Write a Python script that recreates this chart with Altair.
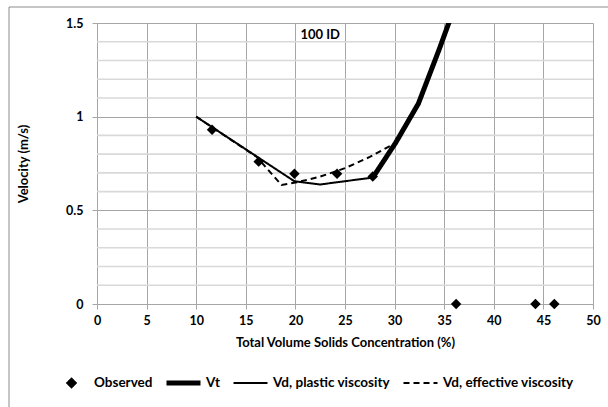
import altair as alt
import pandas as pd

FONT = "Lato"

series_names = ["Observed", "Vt", "Vd, plastic viscosity", "Vd, effective viscosity"]

obs_x = [11.6, 16.3, 19.9, 24.2, 27.8, 36.2, 44.2, 46.1]
obs_y = [0.93, 0.76, 0.695, 0.695, 0.68, 0.0, 0.0, 0.0]

vt_x = [27.8, 30.1, 32.4, 34.5, 35.6]
vt_y = [0.675, 0.86, 1.07, 1.36, 1.52]

vdp_x = [10.0, 19.9, 22.5, 27.8]
vdp_y = [1.0, 0.655, 0.638, 0.675]

vde_x = [10.0, 16.1, 18.6, 20.0, 22.5, 25.0, 27.5, 30.1]
vde_y = [1.0, 0.785, 0.635, 0.648, 0.68, 0.725, 0.785, 0.86]

x_ticks = [0, 5, 10, 15, 20, 25, 30, 35, 40, 45, 50]
y_ticks = [0, 0.5, 1.0, 1.5]
y_minor = [0.1, 0.2, 0.3, 0.4, 0.6, 0.7, 0.8, 0.9, 1.1, 1.2, 1.3, 1.4]

label_text = ["100 ID"]
label_x = [22.5]
label_y = [1.435]

obs = pd.DataFrame({"x": obs_x, "y": obs_y, "s": series_names[0]})
lines = pd.concat([
    pd.DataFrame({"x": vt_x, "y": vt_y, "s": series_names[1], "o": range(len(vt_x))}),
    pd.DataFrame({"x": vdp_x, "y": vdp_y, "s": series_names[2], "o": range(len(vdp_x))}),
    pd.DataFrame({"x": vde_x, "y": vde_y, "s": series_names[3], "o": range(len(vde_x))}),
])
ann = pd.DataFrame({"x": label_x, "y": label_y, "t": label_text})
minor = pd.DataFrame({"y": y_minor})

axis_font = dict(labelFont=FONT, labelFontWeight="bold", labelFontSize=12.5, labelColor="black",
                 titleFont=FONT, titleFontWeight="bold", titleFontSize=13, titleColor="black",
                 labelOverlap=False)

xscale = alt.Scale(domain=[0, 50], nice=False, zero=False)
yscale = alt.Scale(domain=[0, 1.5], nice=False)

xenc = alt.X("x:Q", scale=xscale,
             axis=alt.Axis(values=x_ticks, title="Total Volume Solids Concentration (%)",
                           grid=True, gridColor="#a6a6a6", gridWidth=1,
                           domainColor="#a6a6a6", tickColor="#a6a6a6", tickSize=5,
                           labelPadding=5, titlePadding=10, labelFlush=False, **axis_font))
yenc = alt.Y("y:Q", scale=yscale,
             axis=alt.Axis(values=y_ticks, title="Velocity (m/s)", format="~g",
                           grid=True, gridColor="#a6a6a6", gridWidth=1,
                           domainColor="#a6a6a6", tickColor="#a6a6a6", tickSize=5,
                           labelPadding=9, titleX=-67, labelFlush=False, **axis_font))

legend = alt.Legend(title=None, orient="none", legendX=-45, legendY=351,
                    direction="horizontal", columns=4, columnPadding=11,
                    clipHeight=18,
                    labelFont=FONT, labelFontWeight="bold",
                    labelFontSize=13.5, labelColor="black", labelOffset=3)

shape_scale = alt.Scale(domain=series_names,
                        range=["diamond", "M-1,0H1", "M-1,0H1", "M-1,0H1"])
size_scale = alt.Scale(domain=series_names, type="ordinal", range=[110, 1156, 1156, 1156])
fill_scale = alt.Scale(domain=series_names, range=["black"] * 4)
stroke_scale = alt.Scale(domain=series_names, range=["black"] * 4)
dash_scale = alt.Scale(domain=series_names, type="ordinal",
                       range=[[1, 0], [1, 0], [1, 0], [6, 4]])
width_scale = alt.Scale(domain=series_names, type="ordinal", range=[1, 5, 2, 2])

minor_layer = alt.Chart(minor).mark_rule(color="#d9d9d9", strokeWidth=1.6).encode(
    y=alt.Y("y:Q", scale=yscale)
)

line_layer = alt.Chart(lines).mark_line(clip=True).encode(
    x=xenc, y=yenc,
    order="o:Q",
    stroke=alt.Stroke("s:N", scale=stroke_scale, legend=legend),
    strokeDash=alt.StrokeDash("s:N", scale=dash_scale, legend=legend),
    strokeWidth=alt.StrokeWidth("s:N", scale=width_scale, legend=legend),
    detail="s:N",
)

point_layer = alt.Chart(obs).mark_point(filled=True, opacity=1, clip=False).encode(
    x=xenc, y=yenc,
    shape=alt.Shape("s:N", scale=shape_scale, legend=legend),
    size=alt.Size("s:N", scale=size_scale, legend=legend),
    fill=alt.Fill("s:N", scale=fill_scale, legend=legend),
)

text_layer = alt.Chart(ann).mark_text(
    font=FONT, fontSize=13, fontWeight="bold", color="black", align="center", baseline="middle"
).encode(x=alt.X("x:Q"), y=alt.Y("y:Q"), text="t:N")

border = alt.Chart(pd.DataFrame({"a": [0]})).mark_rect(
    fill=None, stroke="#8c8c8c", strokeWidth=1, clip=False
).encode(x=alt.value(-88), x2=alt.value(530), y=alt.value(-16), y2=alt.value(400))

chart = alt.layer(border, minor_layer, line_layer, point_layer, text_layer).properties(
    width=496, height=281,
    autosize=alt.AutoSizeParams(type="none"),
    padding={"left": 97, "top": 23, "right": 15, "bottom": 103},
    background="white",
).configure_view(stroke=None)

chart.save("out.html", embed_options={"renderer": "svg", "actions": False})
